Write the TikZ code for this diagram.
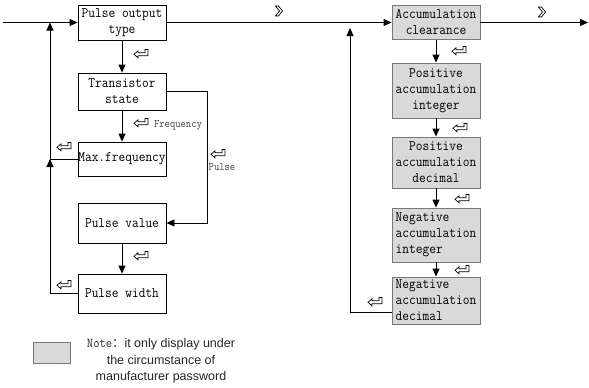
\documentclass[tikz,border=0pt]{standalone}
\usepackage{fontspec}
\setsansfont{Liberation Sans}
\newfontfamily\cjk{Noto Sans CJK SC}
\newfontfamily\boxfont{Latin Modern Mono}[FakeStretch=0.9]
\usetikzlibrary{arrows.meta,calc}
\definecolor{gfill}{HTML}{D9D9D9}
\definecolor{gline}{HTML}{7A7A6A}
\begin{document}
\begin{tikzpicture}[x=1pt,y=-1pt,
  ln/.style={line width=0.9pt},
  arr/.style={ln,-{Triangle[length=8pt,width=7pt]}},
  boxbase/.style={minimum width=88pt,inner sep=0pt,font=\boxfont\fontsize{14.5}{16}\selectfont},
  lbox/.style={boxbase,draw,line width=0.9pt,fill=white,align=center},
  gbox/.style={boxbase,draw=gline,line width=0.9pt,fill=gfill,align=center},
  gboxl/.style={boxbase,draw=gline,line width=0.9pt,fill=gfill,align=left},
  lab/.style={font=\boxfont\fontsize{11.5}{12}\selectfont,text=black!75},
  ret/.pic={\draw[line width=0.7pt,fill=white] (-7,0.3) -- (-3,-3.2) -- (-3,-1.2) -- (4,-1.2) -- (4,-4.5) -- (7,-4.5) -- (7,1.8) -- (-3,1.8) -- (-3,3.8) -- cycle;},
  chev/.pic={\draw[line width=0.7pt,fill=white] (-3.5,-5) -- (-0.5,-5) -- (3.5,0) -- (-0.5,5) -- (-3.5,5) -- (0.5,0) -- cycle;}
]
\useasboundingbox (0,0) rectangle (589,388);
% left column
\node[lbox,minimum height=35pt] (pot) at (122,22.5) {Pulse output\\type};
\node[lbox,minimum height=37pt] (ts) at (122,91.5) {Transistor\\state};
\node[lbox,minimum height=34pt] (mf) at (122,159) {Max.frequency};
\node[lbox,minimum height=40pt] (pv) at (122,223) {Pulse value};
\node[lbox,minimum height=39pt] (pw) at (122,293.5) {Pulse width};
% right column
\node[gbox,minimum height=34pt] (ac) at (436,22.5) {Accumulation\\clearance};
\node[gbox,minimum height=55pt] (pi) at (436,90.5) {Positive\\accumulation\\integer};
\node[gbox,minimum height=51pt] (pd) at (436,162.5) {Positive\\accumulation\\decimal};
\node[gboxl,minimum height=54pt] (ni) at (436,235) {Negative\\accumulation\\integer};
\node[gboxl,minimum height=47pt] (nd) at (436,300.5) {Negative\\accumulation\\decimal};
% coordinates
\coordinate (start) at (3,22.5);
\coordinate (end) at (588,22.5);
\coordinate (L) at (50,0);
\coordinate (Q) at (207,0);
\coordinate (R) at (350,0);
\coordinate (Rtop) at (350,28);
% main line
\draw[arr] (start) -- (pot.west);
\draw[arr] (pot.east) -- (ac.west);
\draw[arr] (ac.east) -- (end);
% left vertical
\draw[arr] (pot.south) -- (ts.north);
\draw[arr] (ts.south) -- (mf.north);
\draw[arr] (pv.south) -- (pw.north);
\draw[arr] (ts.east) -- (ts.east -| Q) -- (pv.east -| Q) -- (pv.east);
\draw[arr] (pw.west) -- (pw.west -| L) -- (mf.west -| L);
\draw[arr] (mf.west) -- (mf.west -| L) -- (pot.west -| L);
% right vertical
\draw[arr] (ac.south) -- (pi.north);
\draw[arr] (pi.south) -- (pd.north);
\draw[arr] (pd.south) -- (ni.north);
\draw[arr] (ni.south) -- (nd.north);
\draw[arr] ([yshift=12pt]nd.south west) -- ([yshift=12pt]nd.south west -| R) -- (Rtop);
% labels
\node[lab] (fq) at (178,125) {Frequency};
\node[lab] (pl) at (222,167) {Pulse};
% symbols
\pic at (279,11) {chev};
\pic at (542,12) {chev};
\pic at (141,54) {ret};
\pic at (141,123) {ret};
\pic at (64,147) {ret};
\pic at (218,154) {ret};
\pic at (141,256) {ret};
\pic at (64,285) {ret};
\pic at (459,51) {ret};
\pic at (460,128) {ret};
\pic at (462,199) {ret};
\pic at (462,270) {ret};
\pic at (375,302) {ret};
% legend
\node[draw=gline,line width=0.9pt,fill=gfill,minimum width=37pt,minimum height=21pt,inner sep=0pt] (lg) at (51.5,352.5) {};
\node[font=\sffamily\fontsize{12.5}{16.5}\selectfont,align=center,text=black!85] (note) at (161,361)
  {{\boxfont\fontsize{13.5}{16.5}\selectfont Note}{\cjk ：}it only display under\\the circumstance of\\manufacturer password};
\end{tikzpicture}
\end{document}
